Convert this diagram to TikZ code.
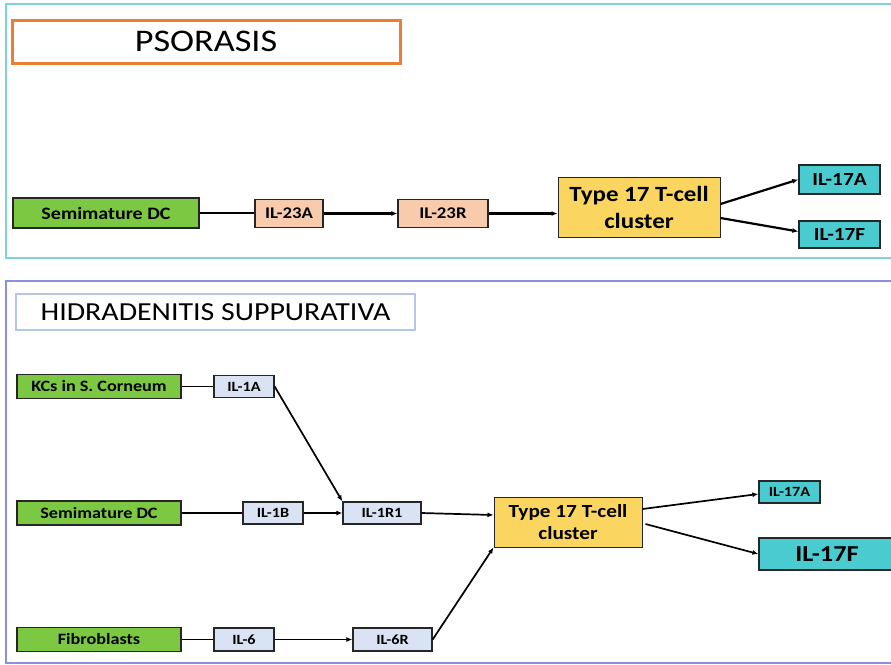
\documentclass[tikz,border=0pt]{standalone}
\usepackage{fontspec}
\setmainfont{Carlito}[FakeStretch=1.15]
\usetikzlibrary{arrows.meta}

\definecolor{framepso}{HTML}{7ED3D6}
\definecolor{framehs}{HTML}{8A8FE2}
\definecolor{titleorange}{HTML}{ED7D31}
\definecolor{titleblue}{HTML}{B4C7E7}
\definecolor{srcgreen}{HTML}{7DC843}
\definecolor{peach}{HTML}{F8CBAD}
\definecolor{paleblue}{HTML}{DAE3F3}
\definecolor{tyellow}{HTML}{FAD55F}
\definecolor{outcyan}{HTML}{4ACBD0}

\begin{document}
\begin{tikzpicture}[x=1pt, y=-1pt,
    box/.style={draw=black!85, line width=1.3pt, inner sep=0pt, align=center,
      font=\bfseries\fontsize{14.1}{16}\selectfont},
    src/.style={box, fill=srcgreen},
    cyto/.style={box, fill=paleblue},
    tcell/.style={box, fill=tyellow, line width=1pt},
    outc/.style={box, fill=outcyan},
    link/.style={line width=1.1pt},
    arr/.style={line width=1.7pt, -{Latex[length=6pt,width=5pt]}}]
    \useasboundingbox (0,0) rectangle (891,664);
    \clip (0,0) rectangle (891,664);

    % --- Panel 1: Psoriasis ---
    \begin{scope}
        \draw[framepso, line width=1.5pt] (895,4) -- (6,4) -- (6,258) -- (895,258);
        \node[draw=titleorange, line width=3pt, minimum width=388pt, minimum height=43pt,
          font=\fontsize{31.5}{34}\selectfont] (psor) at (206,41.5) {PSORASIS};

        \node[src, minimum width=186pt, minimum height=30pt, font=\bfseries\fontsize{17.4}{19}\selectfont]
          (dcA) at (106,213) {Semimature DC};
        \node[box, fill=peach, minimum width=68pt, minimum height=28pt, font=\bfseries\fontsize{16.3}{18}\selectfont]
          (il23a) at (289,213.5) {IL-23A};
        \node[box, fill=peach, minimum width=90pt, minimum height=28pt, font=\bfseries\fontsize{16.3}{18}\selectfont]
          (il23r) at (443,213.5) {IL-23R};
        \node[tcell, minimum width=162pt, minimum height=60pt, font=\bfseries\fontsize{21.7}{27}\selectfont]
          (tcA) at (639,207) {Type 17 T-cell\\cluster};
        \node[outc, minimum width=81pt, minimum height=29pt, font=\bfseries\fontsize{18.5}{20}\selectfont]
          (il17aA) at (839.5,179.5) {IL-17A};
        \node[outc, minimum width=81pt, minimum height=27pt, font=\bfseries\fontsize{18.5}{20}\selectfont]
          (il17fA) at (839.5,234.5) {IL-17F};

        \draw[link] (dcA.east) -- (dcA.east -| il23a.west);
        \draw[arr, line width=2.2pt] (il23a.east) -- (il23r.west);
        \draw[arr, line width=2.2pt] (il23r.east) -- (il23r.east -| tcA.west);
        \draw[arr, line width=2.2pt] ([yshift=3pt]tcA.east) -- (il17aA.west);
        \draw[arr, line width=2.2pt] ([yshift=-11pt]tcA.east) -- ([yshift=3pt]il17fA.west);
    \end{scope}

    % --- Panel 2: Hidradenitis suppurativa ---
    \begin{scope}
        \draw[framehs, line width=2pt] (895,281) -- (6,281) -- (6,663) -- (895,663);
        \node[draw=titleblue, line width=2.5pt, minimum width=399pt, minimum height=36pt,
          font=\fontsize{26}{29}\selectfont] (hs) at (215.5,312) {HIDRADENITIS SUPPURATIVA};

        % sources
        \node[src, minimum width=164pt, minimum height=24pt, font=\bfseries\fontsize{15.8}{17}\selectfont]
          (kcs) at (99,386.5) {KCs in S. Corneum};
        \node[src, minimum width=164pt, minimum height=24pt, font=\bfseries\fontsize{15.8}{17}\selectfont]
          (dcB) at (99,513) {Semimature DC};
        \node[src, minimum width=164pt, minimum height=24pt, font=\bfseries\fontsize{15.8}{17}\selectfont]
          (fib) at (99,639.5) {Fibroblasts};

        % cytokines and receptors
        \node[cyto, minimum width=60pt, minimum height=22pt] (il1a) at (244,386.5) {IL-1A};
        \node[cyto, minimum width=60pt, minimum height=22pt] (il1b) at (273,513) {IL-1B};
        \node[cyto, minimum width=78pt, minimum height=22pt] (il1r1) at (382,513) {IL-1R1};
        \node[cyto, minimum width=60pt, minimum height=23pt] (il6) at (244,639.5) {IL-6};
        \node[cyto, minimum width=79pt, minimum height=23pt] (il6r) at (392.5,639.5) {IL-6R};

        \node[tcell, minimum width=148pt, minimum height=50pt, font=\bfseries\fontsize{18.5}{22}\selectfont]
          (tcB) at (568,522) {Type 17 T-cell\\cluster};
        \node[outc, minimum width=61pt, minimum height=22pt] (il17aB) at (789.5,492) {IL-17A};
        \node[outc, minimum width=136pt, minimum height=32pt, font=\bfseries\fontsize{22.8}{25}\selectfont]
          (il17fB) at (827,554) {IL-17F};

        \foreach \a/\b in {kcs/il1a, dcB/il1b, fib/il6}
            \draw[link] (\a.east) -- (\b.west);

        \draw[arr] (il1a.east) -- (il1r1.north west);
        \draw[arr] (il1b.east) -- (il1r1.west);
        \draw[arr] (il6.east) -- (il6r.west);
        \draw[arr] (il1r1.east) -- ([yshift=7pt]tcB.west);
        \draw[arr] (il6r.east) -- (tcB.south west);
        \draw[arr] ([yshift=13pt]tcB.east) -- ([yshift=-2pt]il17aB.west);
        \draw[arr] ([xshift=3pt,yshift=-2pt]tcB.east) -- (il17fB.west);
    \end{scope}
\end{tikzpicture}
\end{document}
